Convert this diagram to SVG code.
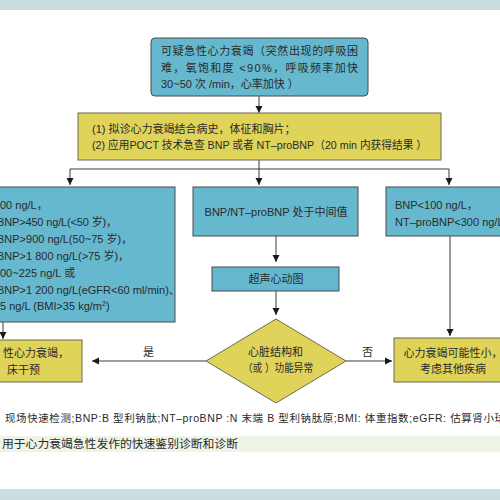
<svg xmlns="http://www.w3.org/2000/svg" width="500" height="500" viewBox="0 0 500 500">
<defs>
<style>
.t{font-family:"Liberation Sans","Noto Sans CJK SC",sans-serif;font-size:11px;fill:#2a2a2a}
.blue{fill:#66b8cf;stroke:#4a4a4a;stroke-width:1}
.yel{fill:#e0d35a;stroke:#6a6a55;stroke-width:1}
.ln{fill:none;stroke:#3a3a3a;stroke-width:1}
</style>
<marker id="ah" viewBox="0 0 10 10" refX="10" refY="5" markerWidth="7" markerHeight="8" markerUnits="userSpaceOnUse" orient="auto">
<path d="M0,0 L10,5 L0,10 z" fill="#1a1a1a"/>
</marker>
</defs>
<rect x="0" y="0" width="500" height="500" fill="#ffffff"/>
<rect x="0" y="0" width="500" height="10" fill="#cbdde0"/>
<rect x="0" y="489" width="500" height="11" fill="#cbdde0"/>
<rect x="0" y="436" width="500" height="16" fill="#eef4e6"/>

<g id="connectors">
<line class="ln" x1="259" y1="96" x2="259" y2="113" marker-end="url(#ah)"/>
<line class="ln" x1="259" y1="160" x2="259" y2="169"/>
<line class="ln" x1="70" y1="169" x2="449" y2="169"/>
<line class="ln" x1="70" y1="169" x2="70" y2="185" marker-end="url(#ah)"/>
<line class="ln" x1="259" y1="169" x2="259" y2="185" marker-end="url(#ah)"/>
<line class="ln" x1="449" y1="169" x2="449" y2="185" marker-end="url(#ah)"/>
<line class="ln" x1="3" y1="322" x2="3" y2="339" marker-end="url(#ah)"/>
<line class="ln" x1="276" y1="236" x2="276" y2="262" marker-end="url(#ah)"/>
<line class="ln" x1="276" y1="291" x2="276" y2="315" marker-end="url(#ah)"/>
<line class="ln" x1="206" y1="361" x2="92" y2="361" marker-end="url(#ah)"/>
<line class="ln" x1="346" y1="361" x2="392" y2="361" marker-end="url(#ah)"/>
<line class="ln" x1="450" y1="236" x2="450" y2="336" marker-end="url(#ah)"/>
<text class="t" x="143" y="356">是</text>
<text class="t" x="362" y="356">否</text>
</g>

<g id="n1">
<rect class="blue" x="151" y="38" width="217" height="58" rx="4"/>
<text class="t" x="161" y="55" textLength="197" lengthAdjust="spacing">可疑急性心力衰竭（突然出现的呼吸困</text>
<text class="t" x="161" y="72" textLength="197" lengthAdjust="spacing">难，氧饱和度 &lt;90%，呼吸频率加快</text>
<text class="t" x="161" y="88">30~50 次 /min，心率加快 ）</text>
</g>

<g id="n2">
<rect class="yel" x="78" y="113" width="363" height="47"/>
<text class="t" x="92" y="133">(1) 拟诊心力衰竭结合病史，体征和胸片；</text>
<text class="t" x="92" y="149" textLength="335" lengthAdjust="spacingAndGlyphs">(2) 应用POCT 技术急查 BNP 或者 NT–proBNP（20 min 内获得结果 ）</text>
</g>

<g id="n3">
<rect class="blue" x="-5" y="187" width="180" height="135"/>
<text class="t" x="0" y="209">00 ng/L，</text>
<text class="t" x="-3" y="226" textLength="120" lengthAdjust="spacing">BNP&gt;450 ng/L(&lt;50 岁)，</text>
<text class="t" x="-3" y="243">BNP&gt;900 ng/L(50~75 岁)，</text>
<text class="t" x="-3" y="260">BNP&gt;1 800 ng/L(&gt;75 岁)，</text>
<text class="t" x="0" y="277">00~225 ng/L 或</text>
<text class="t" x="-3" y="294">BNP&gt;1 200 ng/L(eGFR&lt;60 ml/min)、</text>
<text class="t" x="0" y="310">5 ng/L (BMI&gt;35 kg/m<tspan font-size="7" dy="-4">2</tspan><tspan dy="4">)</tspan></text>
</g>

<g id="n4">
<rect class="blue" x="193" y="187" width="165" height="49"/>
<text class="t" x="276" y="216" text-anchor="middle">BNP/NT–proBNP 处于中间值</text>
</g>

<g id="n5">
<rect class="blue" x="386" y="187" width="120" height="49"/>
<text class="t" x="395" y="209">BNP&lt;100 ng/L，</text>
<text class="t" x="395" y="226">NT–proBNP&lt;300 ng/L</text>
</g>

<g id="n6">
<rect class="blue" x="212" y="267" width="127" height="24"/>
<text class="t" x="276" y="283" text-anchor="middle">超声心动图</text>
</g>

<g id="n7">
<polygon class="yel" points="276,319 346,361 276,403 206,361"/>
<text class="t" x="248" y="356">心脏结构和</text>
<text class="t" x="243" y="372" textLength="70" lengthAdjust="spacingAndGlyphs">（或 ）功能异常</text>
</g>

<g id="n8">
<rect class="yel" x="-5" y="340" width="87" height="42"/>
<text class="t" x="3" y="357">性心力衰竭，</text>
<text class="t" x="7" y="374">床干预</text>
</g>

<g id="n9">
<rect class="yel" x="394" y="338" width="116" height="44"/>
<text class="t" x="453" y="357" text-anchor="middle">心力衰竭可能性小，</text>
<text class="t" x="453" y="373" text-anchor="middle">考虑其他疾病</text>
</g>

<text class="t" x="5" y="422" style="font-size:10.5px" textLength="500" lengthAdjust="spacing">现场快速检测;BNP:B 型利钠肽;NT–proBNP :N 末端 B 型利钠肽原;BMI: 体重指数;eGFR: 估算肾小球</text>
<text class="t" x="2" y="448" style="font-size:11.8px">用于心力衰竭急性发作的快速鉴别诊断和诊断</text>
</svg>
